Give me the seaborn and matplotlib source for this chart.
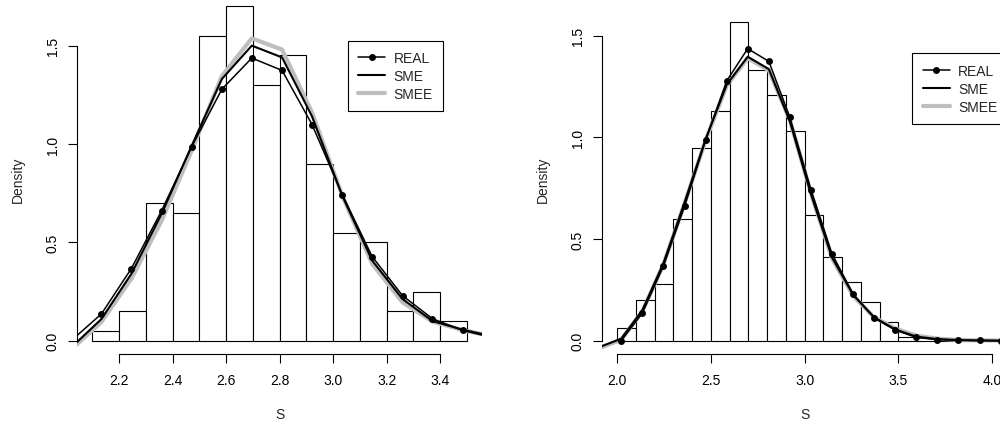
import matplotlib
matplotlib.use("Agg")
import matplotlib.pyplot as plt
import seaborn as sns

# Common evaluation grid of the density curves (S values)
s_grid = [1.909, 2.021, 2.134, 2.246, 2.359, 2.471, 2.584, 2.696, 2.809, 2.921,
          3.034, 3.146, 3.259, 3.371, 3.484, 3.596, 3.709, 3.821, 3.934, 4.046]

# True density (REAL), evaluated on s_grid[1:]
real_density = [0.000, 0.136, 0.367, 0.661, 0.985, 1.278, 1.437, 1.374, 1.099, 0.742,
                0.427, 0.229, 0.112, 0.052, 0.016, 0.005, 0.002, 0.001, 0.000]

# Left panel: histogram (density per bin) and approximations on s_grid[1:16]
left_edges = [2.1, 2.2, 2.3, 2.4, 2.5, 2.6, 2.7, 2.8, 2.9, 3.0, 3.1, 3.2, 3.3, 3.4, 3.5]
left_hist = [0.05, 0.15, 0.70, 0.65, 1.55, 1.70, 1.30, 1.45, 0.90, 0.55, 0.50, 0.15, 0.25, 0.10]
left_sme = [-0.035, 0.110, 0.340, 0.645, 0.990, 1.330, 1.500, 1.440, 1.140, 0.737,
            0.407, 0.212, 0.100, 0.056, 0.022]
left_smee = [-0.045, 0.095, 0.315, 0.610, 0.965, 1.345, 1.537, 1.480, 1.160, 0.737,
             0.390, 0.195, 0.097, 0.054, 0.022]
left_xticks = [2.2, 2.4, 2.6, 2.8, 3.0, 3.2, 3.4]

# Right panel: histogram and approximations on s_grid
right_edges = [2.0, 2.1, 2.2, 2.3, 2.4, 2.5, 2.6, 2.7, 2.8, 2.9, 3.0,
               3.1, 3.2, 3.3, 3.4, 3.5, 3.6, 3.7, 3.8, 3.9, 4.0]
right_hist = [0.06, 0.20, 0.28, 0.60, 0.95, 1.13, 1.57, 1.33, 1.21, 1.03,
              0.62, 0.41, 0.29, 0.19, 0.09, 0.02, 0.00, 0.00, 0.00, 0.00]
right_sme = [-0.030, 0.010, 0.150, 0.380, 0.680, 0.990, 1.260, 1.397, 1.336, 1.080,
             0.720, 0.410, 0.225, 0.115, 0.055, 0.020, 0.008, 0.003, 0.001, 0.000]
right_smee = [-0.035, 0.005, 0.145, 0.375, 0.675, 0.985, 1.255, 1.390, 1.330, 1.085,
              0.725, 0.405, 0.220, 0.115, 0.060, 0.025, 0.010, 0.004, 0.002, 0.001]
right_xticks = [2.0, 2.5, 3.0, 3.5, 4.0]

y_ticks = [0.0, 0.5, 1.0, 1.5]

sns.set_theme(style="white")
plt.rcParams["font.family"] = ["Liberation Sans", "DejaVu Sans"]
plt.rcParams["font.size"] = 10

GREY = "#BEBEBE"

fig = plt.figure(figsize=(10, 4.27), dpi=100)
ax1 = fig.add_axes([0.0773, 0.1686, 0.4047, 0.8185])
ax2 = fig.add_axes([0.6023, 0.1686, 0.4047, 0.8185])


def draw_panel(ax, edges, hist, sme_x, sme, smee, xticks, xlim, ylim, legend_xy):
    centers = [(a + b) / 2 for a, b in zip(edges[:-1], edges[1:])]
    sns.histplot(x=centers, weights=hist, bins=edges, stat="count", ax=ax,
                 fill=True, color="white", edgecolor="black", linewidth=0.8,
                 alpha=1.0)
    sns.lineplot(x=sme_x, y=smee, ax=ax, color=GREY, linewidth=3.0,
                 sort=False, estimator=None, label="SMEE")
    sns.lineplot(x=sme_x, y=sme, ax=ax, color="black", linewidth=1.5,
                 sort=False, estimator=None, label="SME")
    sns.lineplot(x=s_grid[1:], y=real_density, ax=ax, color="black",
                 linewidth=1.1, marker="o", markersize=5, markeredgewidth=0,
                 sort=False, estimator=None, label="REAL")

    ax.set_xlim(*xlim)
    ax.set_ylim(*ylim)
    for side in ("top", "right"):
        ax.spines[side].set_visible(False)
    for side in ("left", "bottom"):
        ax.spines[side].set_linewidth(0.8)
        ax.spines[side].set_color("black")
    ax.spines["left"].set_bounds(y_ticks[0], y_ticks[-1])
    ax.spines["bottom"].set_bounds(xticks[0], xticks[-1])

    ax.set_xticks(xticks)
    ax.set_xticklabels([f"{v:.1f}" for v in xticks])
    ax.set_yticks(y_ticks)
    ax.set_yticklabels([f"{v:.1f}" for v in y_ticks])
    ax.tick_params(axis="both", direction="out", length=6.5, width=0.8,
                   colors="black", labelsize=10, bottom=True, left=True)
    ax.tick_params(axis="x", pad=7.3)
    ax.tick_params(axis="y", pad=6.3)
    for lab in ax.get_yticklabels():
        lab.set_rotation(90)
        lab.set_verticalalignment("center")

    ax.set_xlabel("S", fontsize=10, labelpad=14)
    ax.set_ylabel("Density", fontsize=10, labelpad=15)

    handles, labels = ax.get_legend_handles_labels()
    order = [labels.index(n) for n in ("REAL", "SME", "SMEE")]
    leg = ax.legend([handles[i] for i in order], [labels[i] for i in order],
                    loc="upper left", bbox_to_anchor=legend_xy, borderaxespad=0,
                    fontsize=10, frameon=True, fancybox=False, framealpha=1,
                    edgecolor="black", borderpad=0.75, labelspacing=0.28,
                    handlelength=1.95, handletextpad=0.6)
    leg.get_frame().set_linewidth(0.8)


draw_panel(ax1, left_edges, left_hist, s_grid[1:16], left_sme, left_smee,
           left_xticks, (2.044, 3.556), (-0.0676, 1.709), (0.668, 0.8964))
draw_panel(ax2, right_edges, right_hist, s_grid, right_sme, right_smee,
           right_xticks, (1.92, 4.08), (-0.0655, 1.654), (0.766, 0.860))

fig.savefig("out.png", dpi=100)
